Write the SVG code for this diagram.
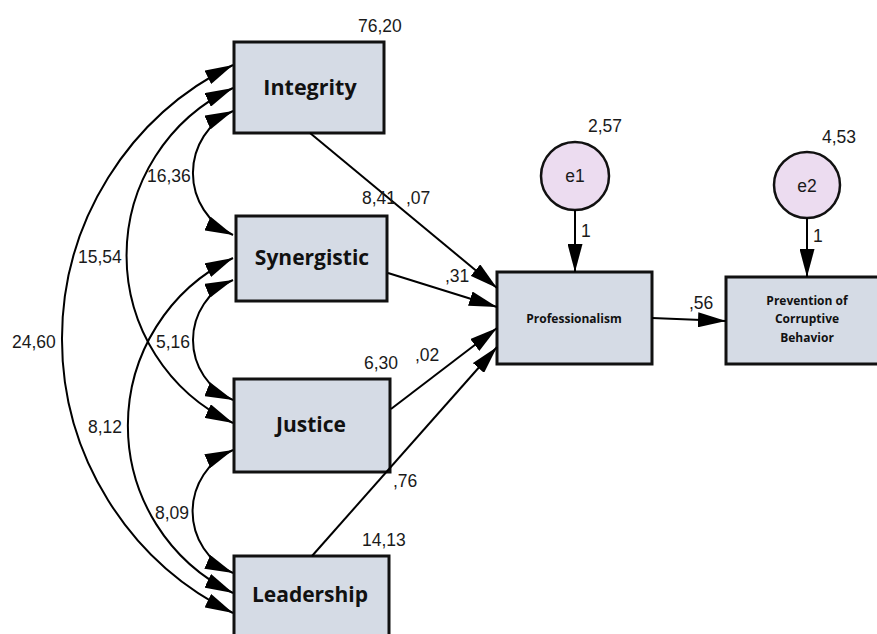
<svg xmlns="http://www.w3.org/2000/svg" width="877" height="634" viewBox="0 0 877 634">
<style>
.box{fill:#d5dbe5;stroke:#111;stroke-width:3}
.err{fill:#ecdcf0;stroke:#111;stroke-width:2.5}
.lbl{font-family:"Open Sans","Liberation Sans",sans-serif;font-weight:bold;fill:#111;text-anchor:middle}
.num{font-family:"Liberation Sans",Arial,sans-serif;font-size:17.5px;fill:#1a1a1a}
.ctr{text-anchor:middle}
.arc{fill:none;stroke:#000;stroke-width:2;marker-start:url(#ah);marker-end:url(#ah)}
.one{fill:none;stroke:#000;stroke-width:2;marker-end:url(#ah)}
</style>
<defs>
<marker id="ah" viewBox="0 0 28 15" refX="28" refY="7.5" markerWidth="28" markerHeight="15" markerUnits="userSpaceOnUse" orient="auto-start-reverse">
<path d="M0,0 L28,7.5 L0,15 z" fill="#000"/>
</marker>
</defs>
<rect width="877" height="634" fill="#fff"/>
<g id="integrity"><rect class="box" x="234" y="42" width="150" height="91"/><text class="lbl" x="310" y="95" font-size="21.5">Integrity</text></g>
<g id="synergistic"><rect class="box" x="236" y="216" width="151" height="85"/><text class="lbl" x="312" y="265" font-size="21">Synergistic</text></g>
<g id="justice"><rect class="box" x="234" y="379" width="156" height="93"/><text class="lbl" x="311" y="432" font-size="21">Justice</text></g>
<g id="leadership"><rect class="box" x="234" y="556" width="155" height="92"/><text class="lbl" x="310" y="602" font-size="21">Leadership</text></g>
<g id="professionalism"><rect class="box" x="497" y="272" width="155" height="92"/><text class="lbl" x="574" y="323" font-size="12">Professionalism</text></g>
<g id="prevention"><rect class="box" x="726" y="277" width="162" height="87"/><text class="lbl" x="807" y="305" font-size="12">Prevention of</text><text class="lbl" x="807" y="323" font-size="12">Corruptive</text><text class="lbl" x="807" y="342" font-size="12">Behavior</text></g>
<g id="e1"><circle class="err" cx="575" cy="176" r="34"/><text class="num ctr" x="575" y="182">e1</text></g>
<g id="e2"><circle class="err" cx="807" cy="185" r="33"/><text class="num ctr" x="807" y="192">e2</text></g>
<g id="connectors">
<path class="arc" d="M233,111 A68,68 0 0 0 233,235"/>
<path class="arc" d="M233,88 A185,185 0 0 0 233,423"/>
<path class="arc" d="M233,65 A305,305 0 0 0 233,613"/>
<path class="arc" d="M233,280 A65,65 0 0 0 233,400"/>
<path class="arc" d="M233,258 A186,186 0 0 0 233,593"/>
<path class="arc" d="M233,450 A67,67 0 0 0 233,573"/>
<path class="one" d="M310,133 L497,288"/>
<path class="one" d="M388,273 L497,307"/>
<path class="one" d="M391,409 L497,328"/>
<path class="one" d="M312,556 L497,347"/>
<path class="one" d="M652,318 L726,321"/>
<path class="one" d="M575,210 L575,272"/>
<path class="one" d="M807,218 L807,277"/>
</g>
<g id="labels">
<text class="num" x="358" y="32">76,20</text>
<text class="num" x="147" y="182">16,36</text>
<text class="num" x="78" y="263">15,54</text>
<text class="num" x="362" y="204">8,41</text>
<text class="num" x="406" y="204">,07</text>
<text class="num" x="445" y="282">,31</text>
<text class="num" x="12" y="348">24,60</text>
<text class="num" x="156" y="348">5,16</text>
<text class="num" x="364" y="369">6,30</text>
<text class="num" x="415" y="361">,02</text>
<text class="num" x="88" y="433">8,12</text>
<text class="num" x="393" y="487">,76</text>
<text class="num" x="155" y="519">8,09</text>
<text class="num" x="362" y="546">14,13</text>
<text class="num" x="588" y="132">2,57</text>
<text class="num" x="822" y="143">4,53</text>
<text class="num" x="581" y="237">1</text>
<text class="num" x="813" y="242">1</text>
<text class="num" x="689" y="309">,56</text>
</g>
</svg>
